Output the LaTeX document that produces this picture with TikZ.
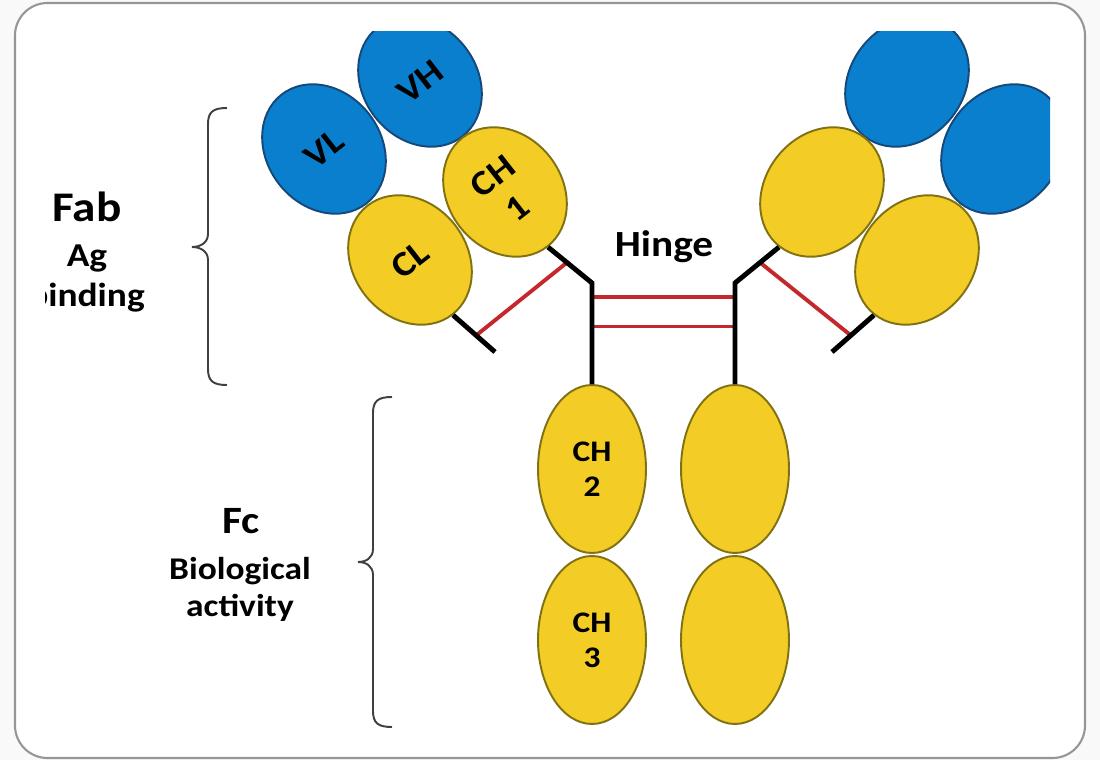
\documentclass[tikz,border=0pt]{standalone}
\usepackage{fontspec}
\setmainfont{Carlito}[FakeStretch=1.12]
\usetikzlibrary{calc,shapes.geometric}
\definecolor{DomBlue}{RGB}{10,127,206}
\definecolor{DomBlueEdge}{RGB}{22,72,122}
\definecolor{DomYellow}{RGB}{243,204,38}
\definecolor{DomYellowEdge}{RGB}{128,114,18}
\definecolor{BondRed}{RGB}{196,40,44}
\definecolor{FrameGray}{RGB}{150,150,150}

\begin{document}
\begin{tikzpicture}[x=0.02cm,y=-0.02cm,
  dom/.style={ellipse,draw,line width=1.1pt,inner sep=0pt,align=center},
  vdom/.style={dom,fill=DomBlue,draw=DomBlueEdge,minimum width=2.28cm,minimum height=2.76cm,font=\bfseries\fontsize{20}{23}\selectfont},
  cdom/.style={dom,fill=DomYellow,draw=DomYellowEdge,minimum width=2.28cm,minimum height=2.76cm,font=\bfseries\fontsize{20}{23}\selectfont},
  fcdom/.style={dom,fill=DomYellow,draw=DomYellowEdge,minimum width=2.16cm,minimum height=3.36cm,font=\bfseries\fontsize{17}{20}\selectfont},
  chain/.style={line width=2.8pt,black},
  bond/.style={line width=2.2pt,BondRed},
  bracket/.style={line width=1.1pt,black!75},
  bigtxt/.style={font=\bfseries\fontsize{24}{28}\selectfont,anchor=base,inner sep=0pt},
  midtxt/.style={font=\bfseries\fontsize{19}{22}\selectfont,anchor=base,inner sep=0pt}]
\fill[gray!5] (0,0) rectangle (1100,760);
\useasboundingbox (0,0) rectangle (1100,760);
\draw[FrameGray,line width=1.2pt,fill=white,rounded corners=0.65cm] (15,3) rectangle (1085,758);

\begin{scope}
\clip (45,32) rectangle (1050,745);
% left Fab arm
\node[vdom,rotate=38] (vhl) at (420,82) {VH};
\node[vdom,rotate=38] (vll) at (324,149) {VL};
\node[cdom,rotate=38] (ch1l) at (505,192) {CH\\1};
\node[cdom,rotate=38] (cll) at (410,260) {CL};
% right Fab arm
\node[vdom,rotate=-38] (vhr) at (907,82) {};
\node[vdom,rotate=-38] (vlr) at (1003,149) {};
\node[cdom,rotate=-38] (ch1r) at (822,192) {};
\node[cdom,rotate=-38] (clr) at (917,260) {};
% Fc
\node[fcdom] (ch2l) at (592,469) {CH\\2};
\node[fcdom] (ch3l) at (592,640) {CH\\3};
\node[fcdom] (ch2r) at (735,469) {};
\node[fcdom] (ch3r) at (735,640) {};

\coordinate (kinkl) at (592,283);
\coordinate (kinkr) at (735,283);
\coordinate (lendl) at (495,352);
\coordinate (lendr) at (832,352);

% disulfide bonds
\draw[bond] ($(cll.south)!0.55!(lendl)$) -- ($(ch1l.south)!0.43!(kinkl)$);
\draw[bond] ($(clr.south)!0.55!(lendr)$) -- ($(ch1r.south)!0.43!(kinkr)$);
\draw[bond] ($(kinkl)!0.14!(ch2l.north)$) -- ($(kinkr)!0.14!(ch2r.north)$);
\draw[bond] ($(kinkl)!0.43!(ch2l.north)$) -- ($(kinkr)!0.43!(ch2r.north)$);

% chains
\draw[chain] (ch1l.south) -- (kinkl) -- (ch2l.north);
\draw[chain] (ch1r.south) -- (kinkr) -- (ch2r.north);
\draw[chain] (cll.south) -- (lendl);
\draw[chain] (clr.south) -- (lendr);

\node[font=\bfseries\fontsize{21}{25}\selectfont,anchor=base] (hinge) at (664,257) {Hinge};

% labels and brackets
\node[bigtxt] (fab) at (87,222) {Fab};
\node[midtxt] (ag) at (87,267) {Ag};
\node[midtxt,anchor=base east] (bind) at (145,307) {binding};
\coordinate (fabtop) at (227,108);
\coordinate (fabtip) at (192,247);
\coordinate (fabbot) at (227,385);
\draw[bracket] (fabtop) .. controls (213,108) and (208,112) .. (208,124) -- (208,234)
  .. controls (208,243) and (200,247) .. (fabtip)
  .. controls (200,247) and (208,251) .. (208,260) -- (208,369)
  .. controls (208,381) and (213,385) .. (fabbot);

\node[font=\bfseries\fontsize{22}{25}\selectfont,anchor=base,inner sep=0pt] (fc) at (241,534) {Fc};
\node[midtxt,font=\bfseries\fontsize{18}{21}\selectfont] (bio) at (240,580) {Biological};
\node[midtxt,font=\bfseries\fontsize{18}{21}\selectfont] (act) at (240,617) {activity};
\coordinate (fctop) at (392,397);
\coordinate (fctip) at (358,562);
\coordinate (fcbot) at (392,727);
\draw[bracket] (fctop) .. controls (378,397) and (373,401) .. (373,413) -- (373,549)
  .. controls (373,558) and (366,562) .. (fctip)
  .. controls (366,562) and (373,566) .. (373,575) -- (373,711)
  .. controls (373,723) and (378,727) .. (fcbot);
\end{scope}
\end{tikzpicture}
\end{document}
